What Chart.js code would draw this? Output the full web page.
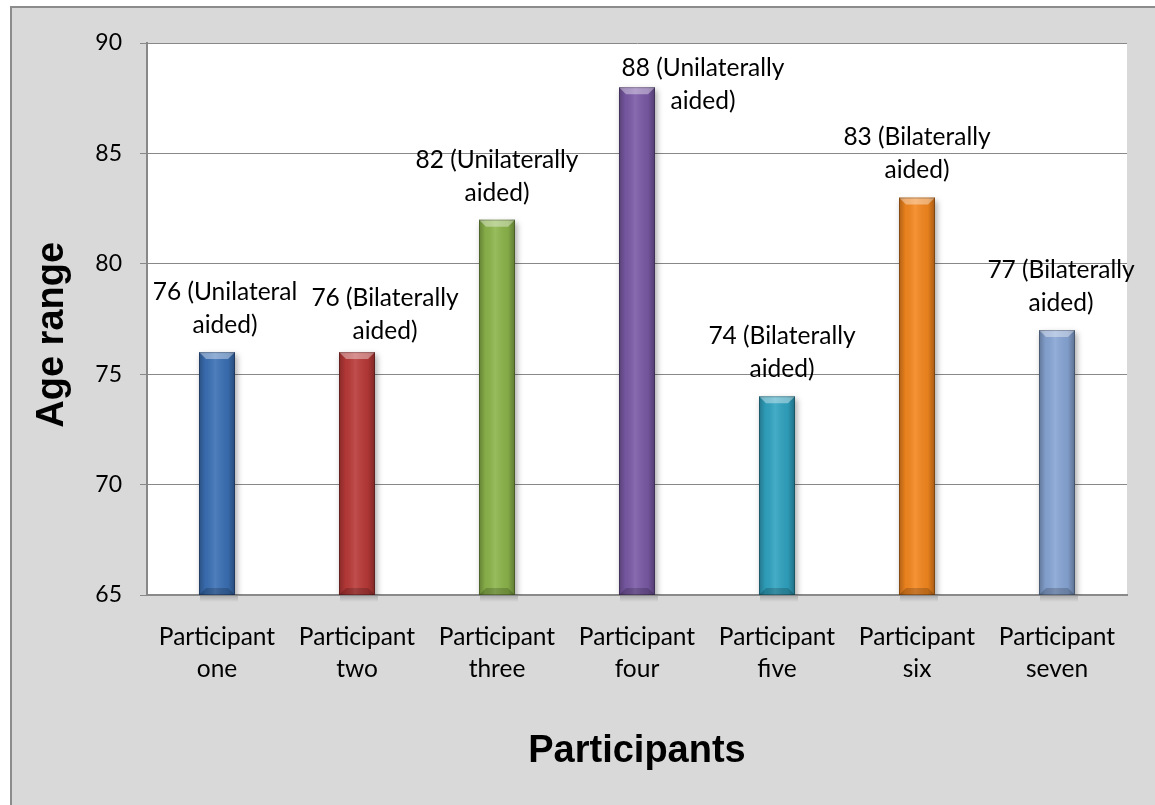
<!DOCTYPE html>
<html>
<head>
<meta charset="utf-8">
<script src="https://cdn.jsdelivr.net/npm/chart.js@4/dist/chart.umd.min.js"></script>
<style>
  html, body { margin: 0; padding: 0; background: #ffffff; }
  #wrap { width: 1155px; height: 805px; }
</style>
</head>
<body>
<div id="wrap"><canvas id="ageChart" width="1155" height="805"></canvas></div>
<script>
// Participants and their ages, with hearing-aid use
const categories = [
  ['Participant', 'one'],
  ['Participant', 'two'],
  ['Participant', 'three'],
  ['Participant', 'four'],
  ['Participant', 'five'],
  ['Participant', 'six'],
  ['Participant', 'seven']
];
const ages = [76, 76, 82, 88, 74, 83, 77];
const aidNotes = ['Unilateral', 'Bilaterally', 'Unilaterally', 'Unilaterally', 'Bilaterally', 'Bilaterally', 'Bilaterally'];
const yTicks = [65, 70, 75, 80, 85, 90];

// one colour per participant bar
const barColors = ['#3b70b5', '#b93a38', '#8cb54b', '#7a5aa6', '#30a3c0', '#f4871f', '#87a5d4'];

// label nudges (px) so neighbouring notes do not collide
const noteShift = [[8, 0], [28, 6], [0, 0], [66, 41], [5, 0], [0, 0], [4, 0]];

const TEXT_FONT = "'Lato', 'Carlito', sans-serif";
const TITLE_FONT = "'Liberation Sans', Arial, sans-serif";

const framePlugin = {
  id: 'frame',
  beforeDraw(chart) {
    const { ctx, width, height, chartArea: a } = chart;
    ctx.save();
    ctx.fillStyle = '#ffffff';
    ctx.fillRect(0, 0, width, height);
    ctx.fillStyle = '#d9d9d9';
    ctx.fillRect(10, 6, width - 10, height - 6);
    ctx.strokeStyle = '#8c8c8c';
    ctx.lineWidth = 2;
    ctx.beginPath();
    ctx.moveTo(11, height);
    ctx.lineTo(11, 7);
    ctx.lineTo(width, 7);
    ctx.stroke();
    ctx.fillStyle = '#ffffff';
    ctx.fillRect(a.left, a.top, a.right - a.left, a.bottom - a.top);
    ctx.restore();
  }
};

// soft drop shadow under the bars, then a bevel finish on each one
const bevelPlugin = {
  id: 'bevel',
  beforeDatasetDraw(chart) {
    const ctx = chart.ctx;
    ctx.save();
    ctx.shadowColor = 'rgba(0,0,0,0.35)';
    ctx.shadowBlur = 6;
    ctx.shadowOffsetX = 2;
    ctx.shadowOffsetY = 3;
  },
  afterDatasetDraw(chart, args) {
    const ctx = chart.ctx;
    const area = chart.chartArea;
    ctx.restore();
    ctx.save();
    args.meta.data.forEach(bar => {
      const w = bar.width;
      const l = bar.x - w / 2, r = bar.x + w / 2;
      const t = bar.y, b = Math.min(bar.base, area.bottom);
      const e = 7;
      // shadow strip just below the axis line
      const sh = ctx.createLinearGradient(0, b, 0, b + 7);
      sh.addColorStop(0, 'rgba(0,0,0,0.22)');
      sh.addColorStop(1, 'rgba(0,0,0,0)');
      ctx.fillStyle = sh;
      ctx.fillRect(l + 1, b + 1, w + 2, 7);

      const g = ctx.createLinearGradient(l, 0, r, 0);
      g.addColorStop(0, 'rgba(0,0,0,0.28)');
      g.addColorStop(0.18, 'rgba(0,0,0,0.05)');
      g.addColorStop(0.45, 'rgba(255,255,255,0.10)');
      g.addColorStop(0.8, 'rgba(0,0,0,0.06)');
      g.addColorStop(1, 'rgba(0,0,0,0.32)');
      ctx.fillStyle = g;
      ctx.fillRect(l, t, w, b - t);
      // top facet
      ctx.fillStyle = 'rgba(255,255,255,0.38)';
      ctx.beginPath();
      ctx.moveTo(l, t); ctx.lineTo(r, t); ctx.lineTo(r - e, t + e); ctx.lineTo(l + e, t + e);
      ctx.closePath(); ctx.fill();
      // bottom facet
      ctx.fillStyle = 'rgba(0,0,0,0.18)';
      ctx.beginPath();
      ctx.moveTo(l, b); ctx.lineTo(r, b); ctx.lineTo(r - e, b - e); ctx.lineTo(l + e, b - e);
      ctx.closePath(); ctx.fill();
      // outline
      ctx.strokeStyle = 'rgba(0,0,0,0.25)';
      ctx.lineWidth = 1;
      ctx.strokeRect(l + 0.5, t + 0.5, w - 1, b - t - 1);
    });
    ctx.restore();
  }
};

const notePlugin = {
  id: 'barNotes',
  afterDatasetsDraw(chart) {
    const ctx = chart.ctx;
    const meta = chart.getDatasetMeta(0);
    ctx.save();
    ctx.font = '24.5px ' + TEXT_FONT;
    ctx.fillStyle = '#000000';
    ctx.textAlign = 'center';
    ctx.textBaseline = 'middle';
    const lineH = 33, gap = 27;
    meta.data.forEach((bar, i) => {
      const lines = [ages[i] + ' (' + aidNotes[i], 'aided)'];
      const [dx, dy] = noteShift[i];
      const x = bar.x + dx;
      const last = bar.y - gap + dy;
      lines.forEach((txt, k) => {
        ctx.fillText(txt, x, last - (lines.length - 1 - k) * lineH);
      });
    });
    ctx.restore();
  }
};

new Chart(document.getElementById('ageChart'), {
  type: 'bar',
  data: {
    labels: categories,
    datasets: [{
      data: ages,
      backgroundColor: barColors,
      borderWidth: 0,
      barPercentage: 0.257,
      categoryPercentage: 1.0
    }]
  },
  options: {
    responsive: false,
    animation: false,
    events: [],
    layout: { padding: { top: 43, right: 28, bottom: 0, left: 0 } },
    plugins: { legend: { display: false }, tooltip: { enabled: false } },
    scales: {
      x: {
        offset: true,
        grid: { display: false, drawTicks: false },
        border: { display: true, color: '#8a8a8a', width: 2 },
        ticks: {
          color: '#000000',
          font: { family: TEXT_FONT, size: 24.5, lineHeight: 1.31 },
          padding: 26,
          maxRotation: 0,
          autoSkip: false
        },
        title: {
          display: true,
          text: 'Participants',
          color: '#000000',
          font: { family: TITLE_FONT, size: 38, weight: 'bold', lineHeight: 1.2 },
          padding: { top: 0, bottom: 31 }
        },
        afterFit(scale) { scale.height = 210; }
      },
      y: {
        min: 65,
        max: 90,
        grid: { color: '#888888', lineWidth: 1, tickLength: 7, drawTicks: true },
        border: { display: true, color: '#888888', width: 2 },
        ticks: {
          color: '#000000',
          font: { family: TEXT_FONT, size: 23 },
          padding: 18
        },
        afterBuildTicks(scale) { scale.ticks = yTicks.map(v => ({ value: v })); },
        title: {
          display: true,
          text: 'Age range   ',
          color: '#000000',
          font: { family: TITLE_FONT, size: 38, weight: 'bold', lineHeight: 1.2 },
          padding: { top: 30, bottom: 0 }
        },
        afterFit(scale) { scale.width = 147; }
      }
    }
  },
  plugins: [framePlugin, bevelPlugin, notePlugin]
});
</script>
</body>
</html>
